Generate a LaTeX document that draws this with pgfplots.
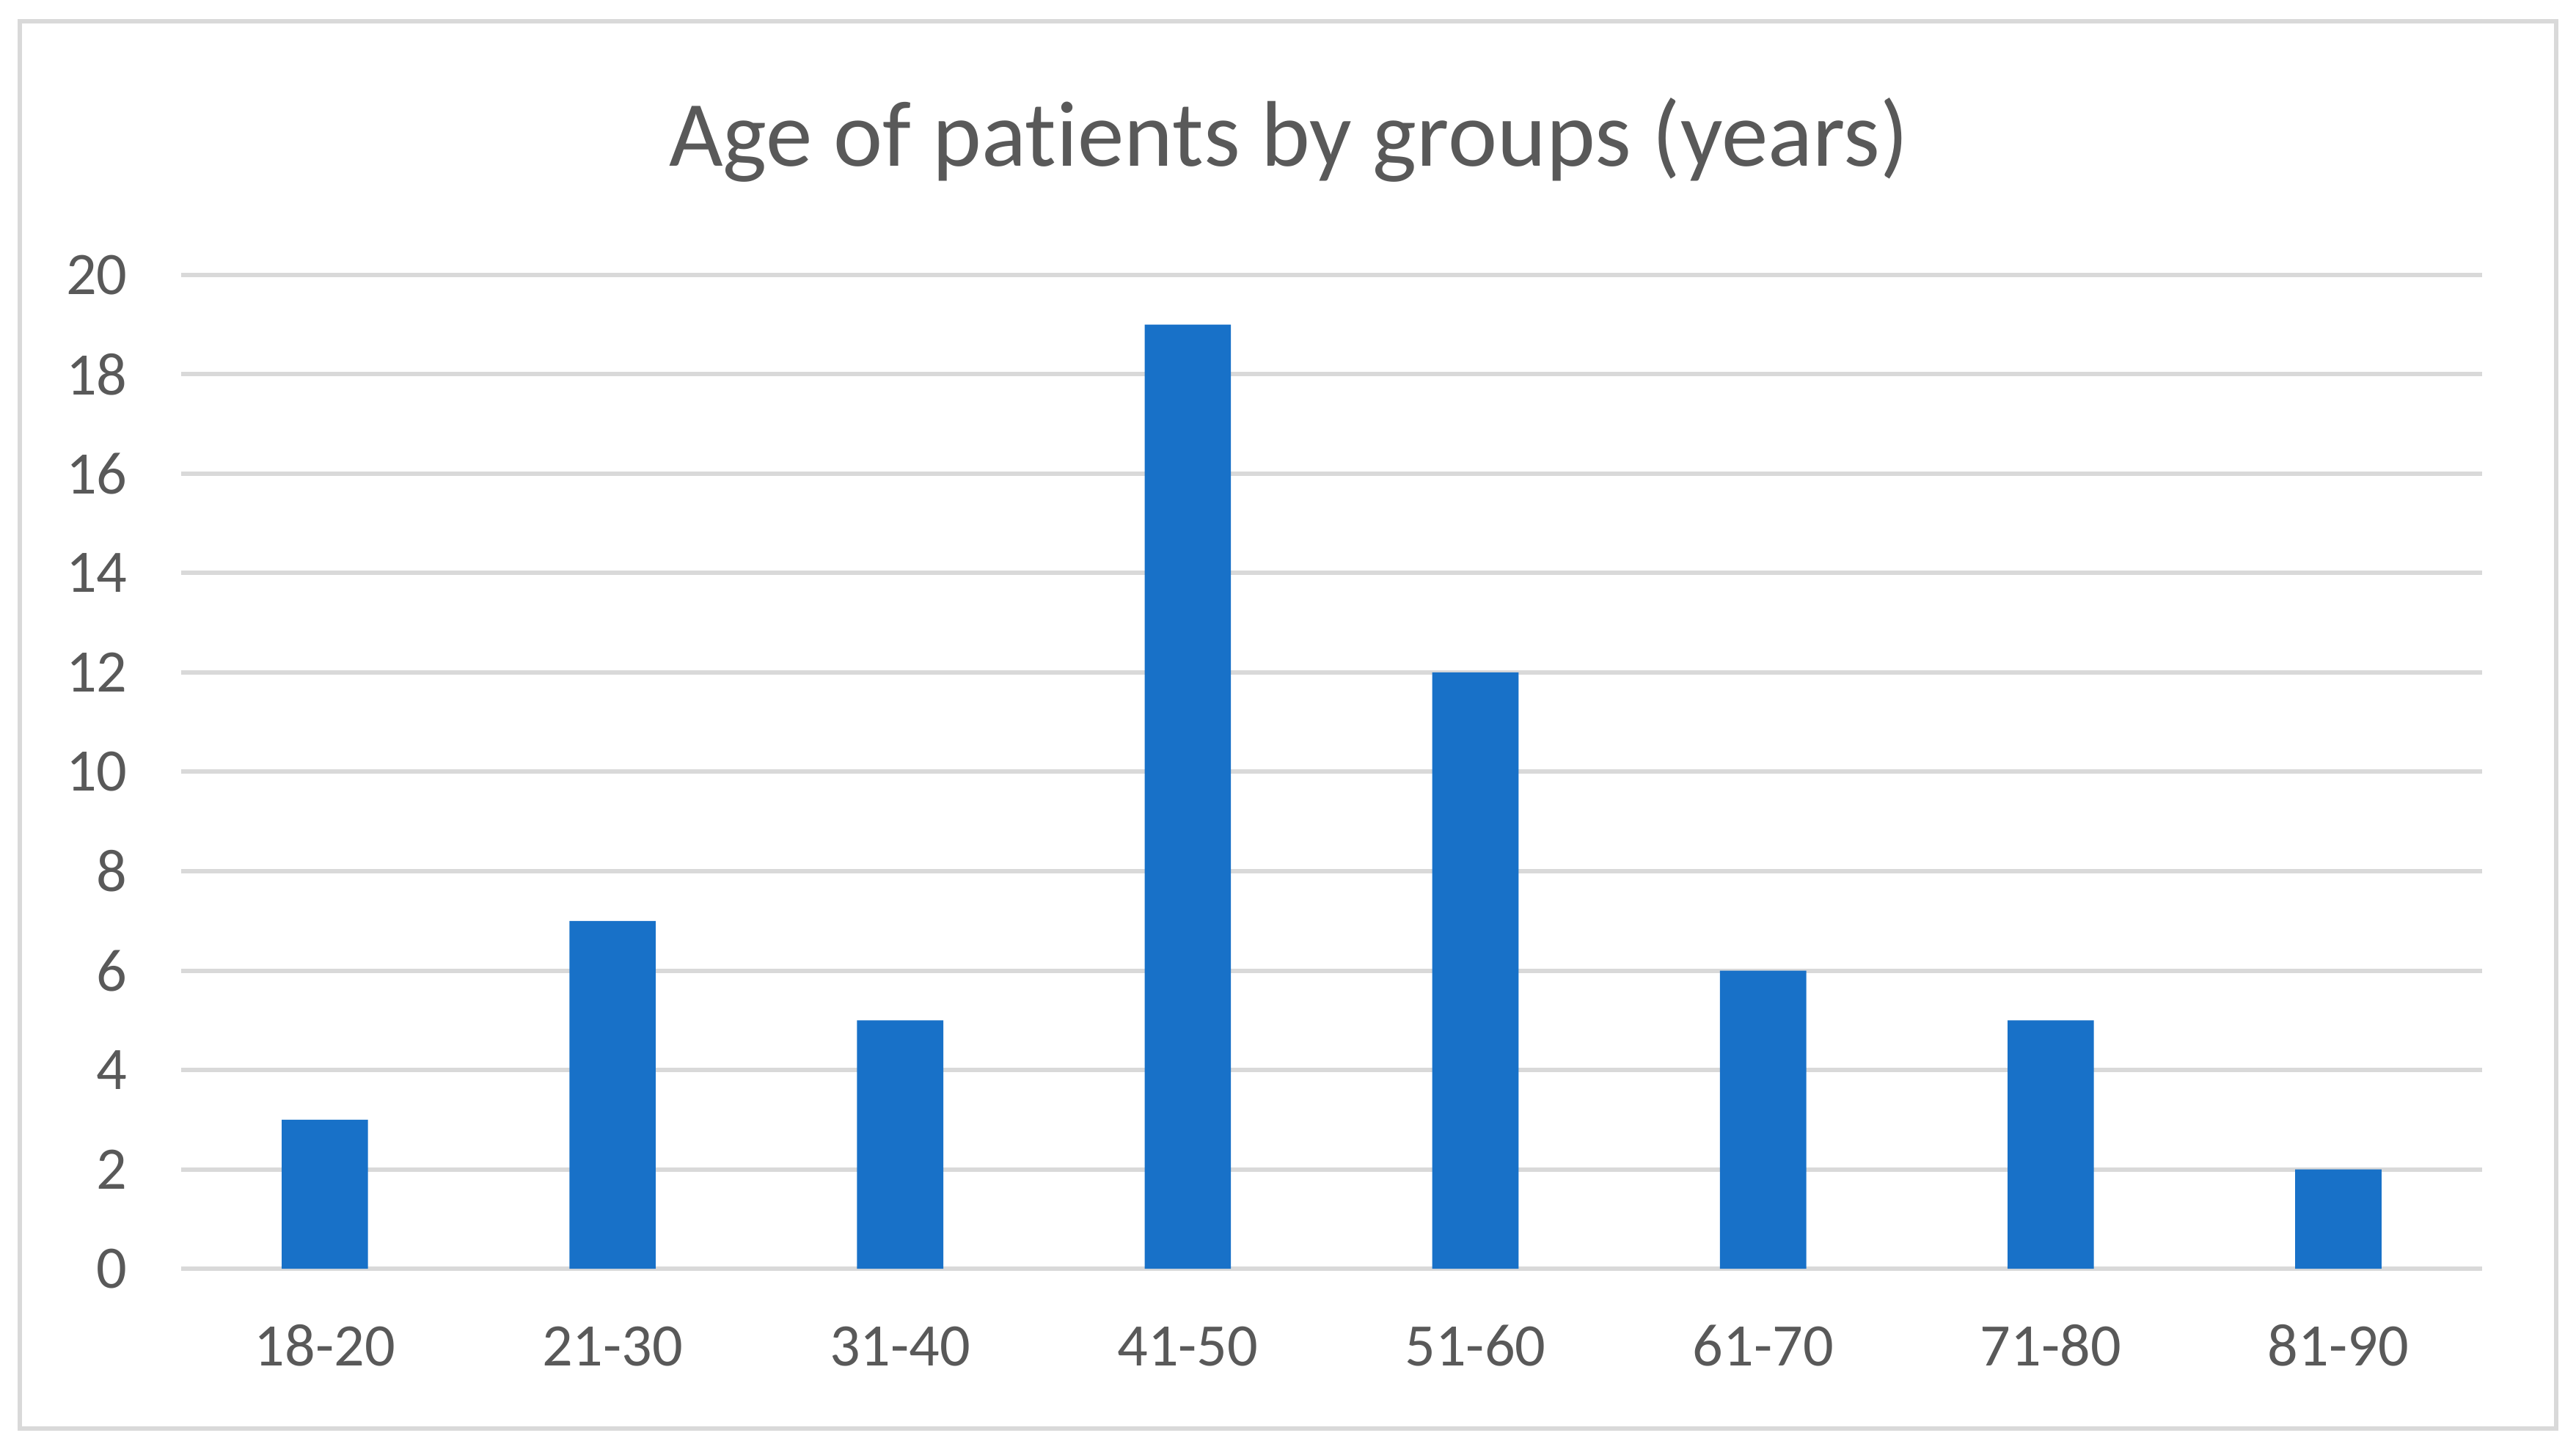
\documentclass[border=0pt]{standalone}
\usepackage{fontspec}
\setmainfont{Carlito}[Ligatures=NoCommon]
\usepackage{pgfplots}
\pgfplotsset{compat=1.18}
\definecolor{barblue}{HTML}{1871C8}
\definecolor{gridgray}{HTML}{D9D9D9}
\definecolor{txtgray}{HTML}{595959}
\begin{document}
\begin{tikzpicture}
\path[use as bounding box] (0,0) rectangle (469.5pt,-264.6pt);
\draw[gridgray, line width=0.8pt] (3.6pt,-3.9pt) rectangle (465.9pt,-260.4pt);
\node[txtgray, font=\fontsize{17}{20}\selectfont] at (234.9pt,-25.5pt) {Age of patients by groups (years)};
\begin{axis}[
  at={(33pt,-231.3pt)}, anchor=south west,
  scale only axis, width=419.4pt, height=181.2pt,
  xmin=-0.5, xmax=7.5, ymin=0, ymax=20,
  ytick={0,2,...,20},
  xtick={0,...,7},
  xticklabels={18-20,21-30,31-40,41-50,51-60,61-70,71-80,81-90},
  ymajorgrids, grid style={gridgray, line width=0.8pt},
  axis line style={draw=none},
  major tick length=0pt,
  tick label style={txtgray, font=\fontsize{11}{13}\selectfont},
  /pgf/number format/assume math mode=true,
  y tick label style={anchor=east, inner sep=0pt, xshift=-9.6pt},
  x tick label style={anchor=base, inner sep=0pt, yshift=-17.7pt},
  ybar, bar width=0.3,
]
\addplot[fill=barblue, draw=none] coordinates {(0,3) (1,7) (2,5) (3,19) (4,12) (5,6) (6,5) (7,2)};
\end{axis}
\end{tikzpicture}
\end{document}
